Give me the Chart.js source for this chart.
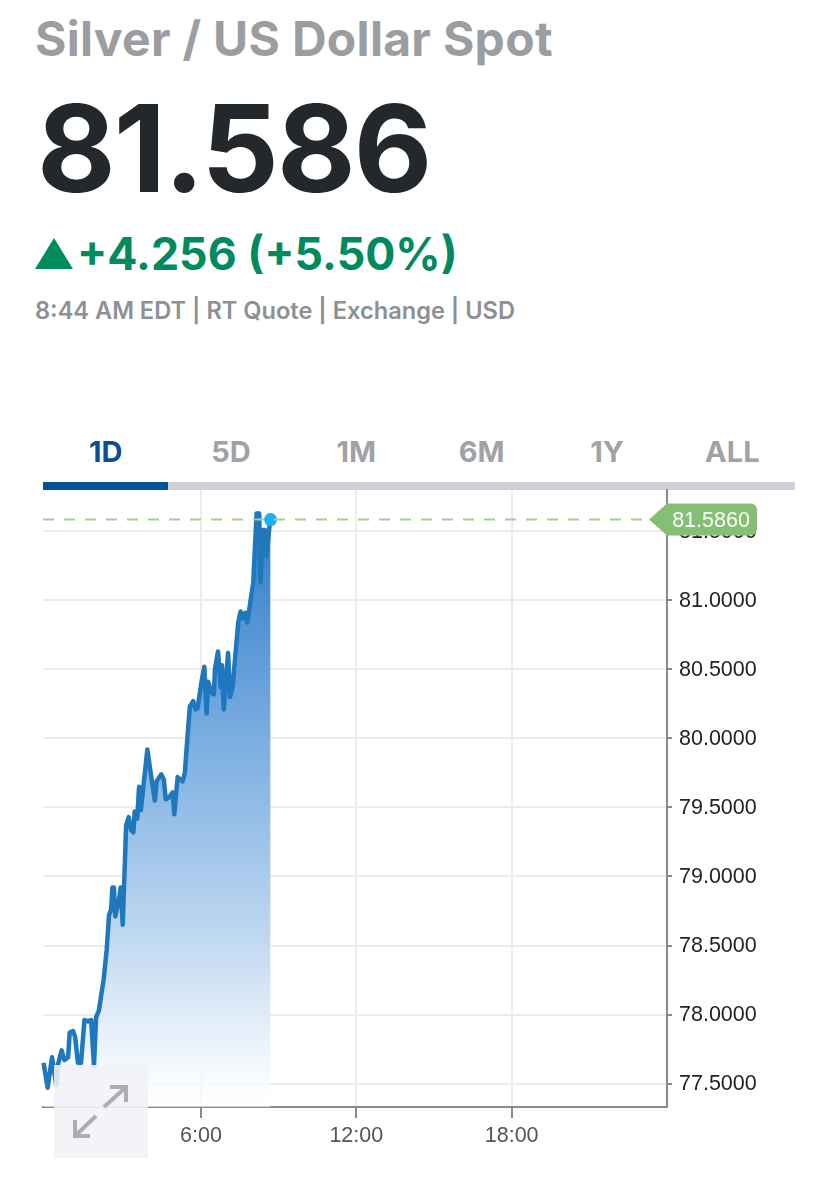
<!DOCTYPE html>
<html>
<head>
<meta charset="utf-8">
<title>Silver / US Dollar Spot</title>
<script src="https://cdn.jsdelivr.net/npm/chart.js@4"></script>
<style>
html, body { margin: 0; padding: 0; background: #fff; }
body { position: relative; width: 838px; height: 1200px; overflow: hidden; font-family: Inter, Lato, sans-serif; }
.abs { position: absolute; white-space: nowrap; }
#name { left: 35px; top: 11px; font-size: 48px; line-height: 56px; font-weight: 700; color: #9b9da1; letter-spacing: 0.3px; }
#price { left: 37px; top: 78px; font-size: 121px; line-height: 140px; font-weight: 700; color: #23282d; letter-spacing: -2px; }
#change { left: 77px; top: 226px; font-size: 44.7px; line-height: 56px; font-weight: 700; color: #008a5e; }
#arrow { left: 35px; top: 238px; width: 0; height: 0; border-left: 19px solid transparent; border-right: 19px solid transparent; border-bottom: 31px solid #008a5e; }
#meta { left: 35px; top: 296px; font-size: 23.6px; line-height: 30px; font-weight: 600; color: #8d9095; }
#tabs { left: 43px; top: 434px; width: 752px; height: 56px; display: flex; border-bottom: 8px solid #cdd0d6; box-sizing: border-box; }
#tabs div { flex: 1; text-align: center; font-size: 29px; line-height: 36px; font-weight: 700; color: #a0a2a6; height: 48px; position: relative; }
#tabs div.active { color: #0b4f92; }
#tabs div.active::after { content: ''; position: absolute; left: 0; right: 0; top: 48px; height: 8px; background: #00529b; }
#chart { position: absolute; left: 0; top: 0; }
#expand { left: 54px; top: 1065px; width: 94px; height: 93px; background: rgba(241, 241, 247, 0.88); }
</style>
</head>
<body>
<div class="abs" id="name">Silver / US Dollar Spot</div>
<div class="abs" id="price">81.586</div>
<div class="abs" id="arrow"></div>
<div class="abs" id="change">+4.256 (+5.50%)</div>
<div class="abs" id="meta">8:44 AM EDT | RT Quote | Exchange | USD</div>
<div class="abs" id="tabs"></div>
<canvas id="chart" width="838" height="1200"></canvas>
<div class="abs" id="expand">
  <svg width="94" height="93" fill="none" stroke="#adadb1" stroke-width="4">
    <path d="M50 42 L71 23 M56 22 H72 V37"/>
    <path d="M42 51 L22 70 M21 55 V71 H36"/>
  </svg>
</div>

<script>
const tabLabels = ['1D', '5D', '1M', '6M', '1Y', 'ALL'];
const xTicks = [6, 12, 18];
const yTicks = [77.5, 78, 78.5, 79, 79.5, 80, 80.5, 81, 81.5];

// hours since midnight
const hours = [
  -0.08, 0.08, 0.25, 0.41, 0.48, 0.62, 0.73, 0.87, 0.93, 1.06, 1.14, 1.25, 1.37, 1.50, 1.64, 1.76,
  1.87, 1.95, 2.06, 2.14, 2.24, 2.36, 2.45, 2.53, 2.58, 2.64, 2.69, 2.85, 2.90, 2.98, 3.11, 3.21,
  3.30, 3.39, 3.44, 3.54, 3.61, 3.68, 3.93, 4.06, 4.22, 4.29, 4.47, 4.57, 4.64, 4.76, 4.91, 4.97,
  5.10, 5.29, 5.38, 5.47, 5.57, 5.70, 5.79, 5.87, 6.03, 6.13, 6.22, 6.28, 6.41, 6.50, 6.54, 6.66,
  6.76, 6.81, 6.88, 6.96, 7.05, 7.12, 7.22, 7.44, 7.53, 7.62, 7.71, 7.79, 8.02, 8.15, 8.25, 8.30,
  8.38, 8.47, 8.53, 8.66, 8.69
];
const prices = [
  77.65, 77.47, 77.69, 77.49, 77.64, 77.74, 77.67, 77.69, 77.87, 77.88, 77.84, 77.65, 77.65, 77.96, 77.95, 77.96,
  77.63, 77.98, 78.03, 78.13, 78.25, 78.47, 78.72, 78.76, 78.92, 78.92, 78.71, 78.85, 78.92, 78.65, 79.37, 79.43,
  79.34, 79.32, 79.47, 79.42, 79.65, 79.48, 79.92, 79.75, 79.55, 79.69, 79.74, 79.70, 79.56, 79.57, 79.61, 79.45,
  79.72, 79.69, 79.75, 79.99, 80.23, 80.27, 80.21, 80.22, 80.42, 80.52, 80.18, 80.41, 80.33, 80.32, 80.50, 80.63,
  80.37, 80.53, 80.21, 80.42, 80.62, 80.30, 80.37, 80.84, 80.92, 80.87, 80.91, 80.84, 81.13, 81.63, 81.63, 81.13,
  81.51, 81.51, 81.32, 81.56, 81.586
];

const lastIndex = prices.length - 1;
const lastPrice = prices[lastIndex];

// Tabs
const tabs = document.getElementById('tabs');
tabLabels.forEach((label, i) => {
    const tab = document.createElement('div');
    tab.textContent = label;
    if (i === 0) tab.classList.add('active');
    tabs.appendChild(tab);
});

// Dashed line and green tag for the last price
const lastPriceTag = {
    id: 'lastPriceTag',
    afterDatasetsDraw(chart) {
        const ctx = chart.ctx;
        const y = chart.scales.y.getPixelForValue(lastPrice);
        const right = chart.chartArea.right;
        ctx.save();
        ctx.strokeStyle = '#a0cf8e';
        ctx.lineWidth = 2;
        ctx.setLineDash([11, 10]);
        ctx.beginPath();
        ctx.moveTo(chart.chartArea.left, y);
        ctx.lineTo(right - 14, y);
        ctx.stroke();
        ctx.setLineDash([]);

        ctx.fillStyle = '#84bf73';
        ctx.beginPath();
        ctx.moveTo(right - 18, y);
        ctx.lineTo(right, y - 16);
        ctx.lineTo(right + 84, y - 16);
        ctx.arcTo(right + 90, y - 16, right + 90, y - 10, 6);
        ctx.lineTo(right + 90, y + 10);
        ctx.arcTo(right + 90, y + 16, right + 84, y + 16, 6);
        ctx.lineTo(right, y + 16);
        ctx.closePath();
        ctx.fill();

        ctx.fillStyle = '#fff';
        ctx.font = '21.5px "Liberation Sans"';
        ctx.textAlign = 'center';
        ctx.textBaseline = 'middle';
        ctx.fillText(lastPrice.toFixed(4), right + 44, y + 2);
        ctx.restore();
    }
};

new Chart(document.getElementById('chart'), {
    type: 'line',
    data: {
        datasets: [{
            data: hours.map((h, i) => ({ x: h, y: prices[i] })),
            borderColor: '#1f77bd',
            borderWidth: 4.5,
            borderJoinStyle: 'round',
            tension: 0,
            fill: 'start',
            backgroundColor: (c) => {
                const area = c.chart.chartArea;
                if (!area) return 'transparent';
                const g = c.chart.ctx.createLinearGradient(0, 513, 0, area.bottom);
                g.addColorStop(0, '#2f7bc8');
                g.addColorStop(0.4, '#7eb0e2');
                g.addColorStop(0.7, '#bcd6f0');
                g.addColorStop(0.92, 'rgba(240, 246, 252, 0.95)');
                g.addColorStop(1, 'rgba(255, 255, 255, 0.6)');
                return g;
            },
            pointRadius: (c) => c.dataIndex === lastIndex ? 6.5 : 0,
            pointBackgroundColor: '#1ab2f5',
            pointBorderWidth: 0,
            clip: false
        }]
    },
    options: {
        responsive: false,
        animation: false,
        layout: { padding: { left: 43, top: 490, right: 0, bottom: 0 } },
        plugins: { legend: { display: false }, tooltip: { enabled: false } },
        scales: {
            x: {
                type: 'linear',
                min: -0.1,
                max: 24,
                afterFit: (axis) => { axis.height = 93; },
                afterBuildTicks: (axis) => { axis.ticks = xTicks.map(v => ({ value: v })); },
                border: { color: '#8a8a8a', width: 2 },
                grid: { color: '#ececec', lineWidth: 2, tickColor: '#8a8a8a', tickLength: 11, tickWidth: 2 },
                ticks: {
                    color: '#555',
                    font: { family: '"Liberation Sans"', size: 21.5 },
                    padding: 5,
                    maxRotation: 0,
                    callback: (v) => v + ':00'
                }
            },
            y: {
                position: 'right',
                min: 77.33,
                max: 81.8,
                afterFit: (axis) => { axis.width = 171; },
                afterBuildTicks: (axis) => { axis.ticks = yTicks.map(v => ({ value: v })); },
                border: { color: '#8a8a8a', width: 2 },
                grid: { color: '#ececec', lineWidth: 2, tickColor: '#8a8a8a', tickLength: 5, tickWidth: 2 },
                ticks: {
                    color: '#222',
                    font: { family: '"Liberation Sans"', size: 21.5 },
                    padding: 7,
                    labelOffset: 1,
                    callback: (v) => v.toFixed(4)
                }
            }
        }
    },
    plugins: [lastPriceTag]
});
</script>
</body>
</html>
